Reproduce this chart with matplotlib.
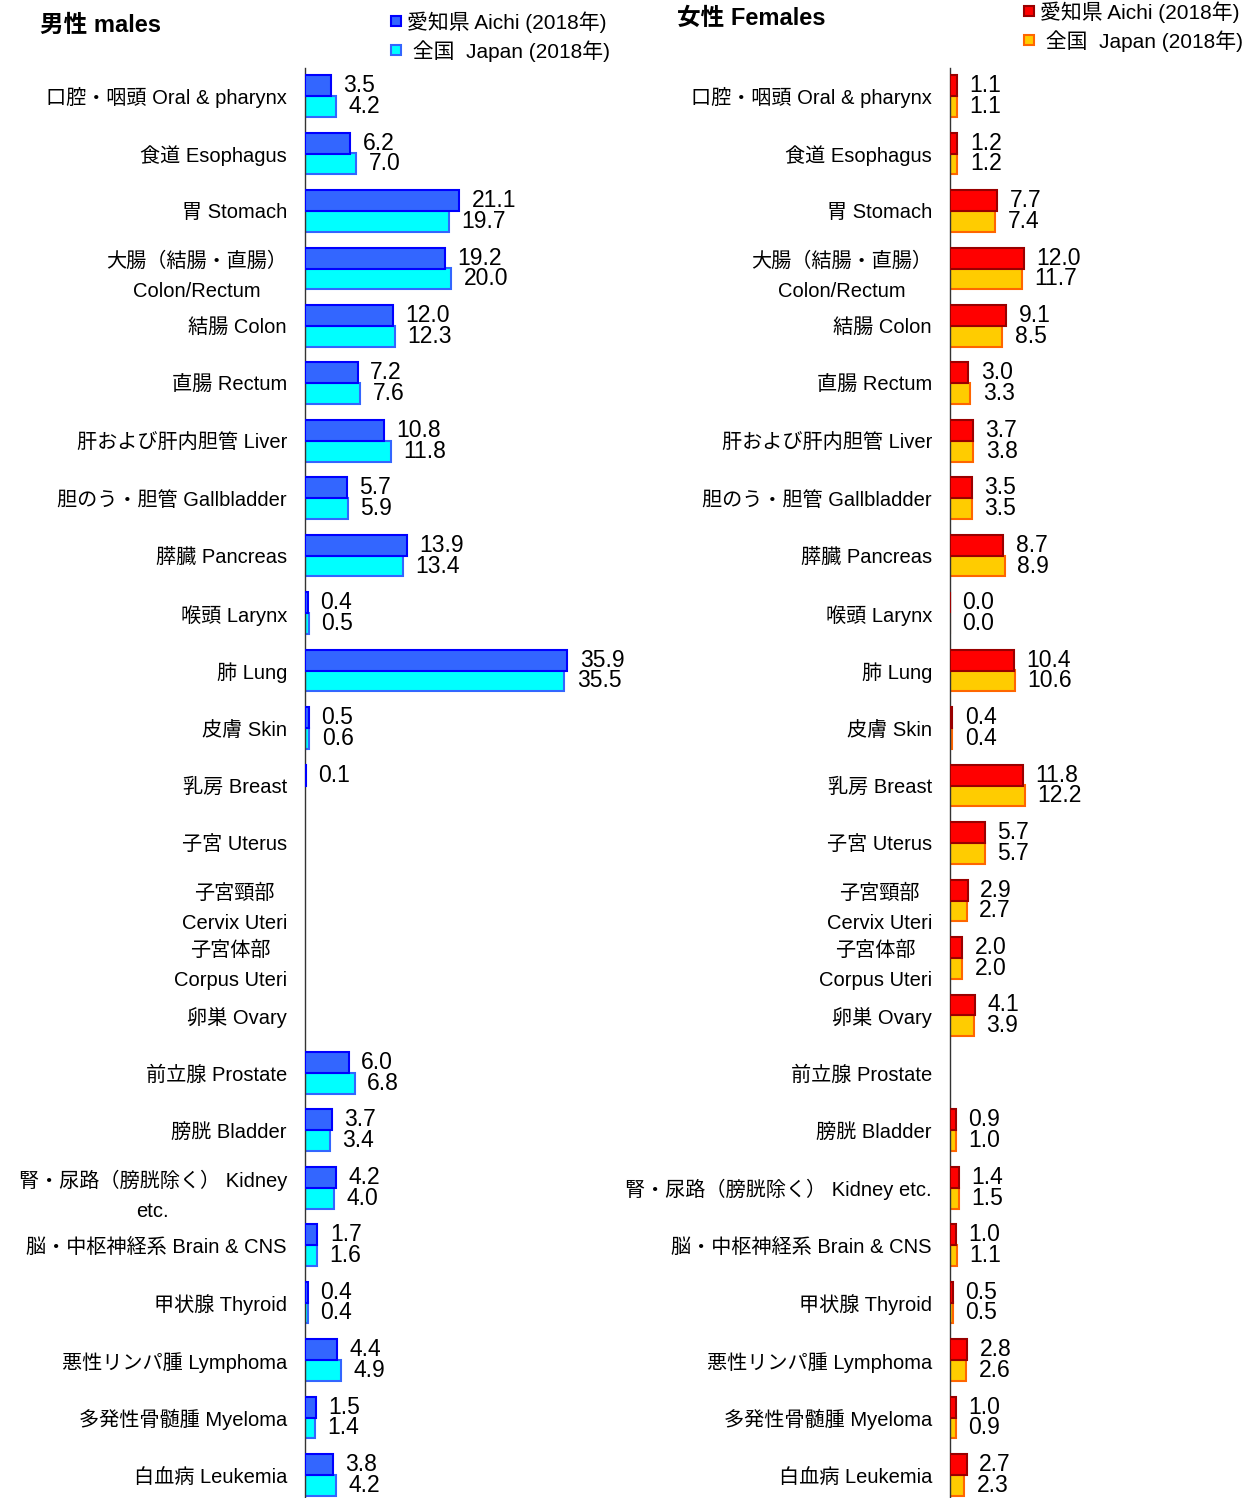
import matplotlib
matplotlib.use("Agg")
import matplotlib.pyplot as plt
from matplotlib.lines import Line2D
import numpy as np

plt.rcParams['font.family'] = ['Liberation Sans', 'Noto Sans CJK JP', 'DejaVu Sans']

male_labels = ["口腔・咽頭 Oral & pharynx", "食道 Esophagus", "胃 Stomach",
               "大腸（結腸・直腸）\nColon/Rectum", "結腸 Colon", "直腸 Rectum",
               "肝および肝内胆管 Liver", "胆のう・胆管 Gallbladder", "膵臓 Pancreas",
               "喉頭 Larynx", "肺 Lung", "皮膚 Skin", "乳房 Breast", "子宮 Uterus",
               "子宮頸部\nCervix Uteri", "子宮体部\nCorpus Uteri", "卵巣 Ovary",
               "前立腺 Prostate", "膀胱 Bladder", "腎・尿路（膀胱除く） Kidney\netc.",
               "脳・中枢神経系 Brain & CNS", "甲状腺 Thyroid", "悪性リンパ腫 Lymphoma",
               "多発性骨髄腫 Myeloma", "白血病 Leukemia"]
female_labels = male_labels[:19] + ["腎・尿路（膀胱除く） Kidney etc."] + male_labels[20:]

male_aichi = [3.5, 6.2, 21.1, 19.2, 12.0, 7.2, 10.8, 5.7, 13.9, 0.4, 35.9, 0.5, 0.1,
              None, None, None, None, 6.0, 3.7, 4.2, 1.7, 0.4, 4.4, 1.5, 3.8]
male_japan = [4.2, 7.0, 19.7, 20.0, 12.3, 7.6, 11.8, 5.9, 13.4, 0.5, 35.5, 0.6, None,
              None, None, None, None, 6.8, 3.4, 4.0, 1.6, 0.4, 4.9, 1.4, 4.2]
female_aichi = [1.1, 1.2, 7.7, 12.0, 9.1, 3.0, 3.7, 3.5, 8.7, 0.0, 10.4, 0.4, 11.8,
                5.7, 2.9, 2.0, 4.1, None, 0.9, 1.4, 1.0, 0.5, 2.8, 1.0, 2.7]
female_japan = [1.1, 1.2, 7.4, 11.7, 8.5, 3.3, 3.8, 3.5, 8.9, 0.0, 10.6, 0.4, 12.2,
                5.7, 2.7, 2.0, 3.9, None, 1.0, 1.5, 1.1, 0.5, 2.6, 0.9, 2.3]

legend_aichi = "愛知県 Aichi (2018年)"
legend_japan = " 全国  Japan (2018年)"

W, H = 1248, 1498
fig = plt.figure(figsize=(W / 100, H / 100), dpi=100)

num_font = ['Liberation Sans Narrow', 'Liberation Sans', 'DejaVu Sans']


def panel(ax, labels, aichi, japan, xmax, c_a, e_a, c_j, e_j):
    n = len(labels)
    y = np.arange(n)
    off = 0.18
    h = 0.365
    for i in range(n):
        if aichi[i] is not None:
            ax.barh(y[i] - off, aichi[i], height=h, color=c_a, edgecolor=e_a,
                    linewidth=1.5, align='center', zorder=3)
            ax.annotate(f"{aichi[i]:.1f}", xy=(aichi[i], y[i] - off), xytext=(9, 0),
                        textcoords='offset points', va='center', ha='left',
                        fontsize=16.5, family=num_font)
        if japan[i] is not None:
            ax.barh(y[i] + off, japan[i], height=h, color=c_j, edgecolor=e_j,
                    linewidth=1.5, align='center', zorder=2)
            ax.annotate(f"{japan[i]:.1f}", xy=(japan[i], y[i] + off), xytext=(9, 0),
                        textcoords='offset points', va='center', ha='left',
                        fontsize=16.5, family=num_font)
    ax.set_xlim(0, xmax)
    ax.set_ylim(24.40, -0.487)
    ax.set_yticks(y)
    ax.set_yticklabels(labels, fontsize=14.5, linespacing=1.75)
    for t in ax.get_yticklabels():
        t.set_multialignment('center')
    ax.tick_params(axis='y', length=0, pad=13)
    ax.set_xticks([])
    for s in ['top', 'right', 'bottom']:
        ax.spines[s].set_visible(False)
    ax.spines['left'].set_color('#333333')
    ax.spines['left'].set_linewidth(1.0)
    ax.patch.set_alpha(0)


axm = fig.add_axes([305 / W, 0, 314 / W, 1430 / H])
panel(axm, male_labels, male_aichi, male_japan, 43,
      '#3366FF', '#0000FF', '#00FFFF', '#3366FF')
axf = fig.add_axes([950 / W, 0, 295 / W, 1430 / H])
panel(axf, female_labels, female_aichi, female_japan, 48,
      '#FF0000', '#990000', '#FFCC00', '#FF6600')

fig.text(40 / W, 1 - 25 / H, "男性 males", fontsize=17, weight='bold', va='center', ha='left')
fig.text(677 / W, 1 - 18 / H, "女性 Females", fontsize=17, weight='bold', va='center', ha='left')


def legend(x, y, c_a, e_a, c_j, e_j):
    handles = [Line2D([], [], linestyle='none', marker='s', markersize=7,
                      markerfacecolor=c_a, markeredgecolor=e_a, markeredgewidth=1.5),
               Line2D([], [], linestyle='none', marker='s', markersize=7,
                      markerfacecolor=c_j, markeredgecolor=e_j, markeredgewidth=1.5)]
    fig.legend(handles, [legend_aichi, legend_japan], loc='upper left',
               bbox_to_anchor=(x / W, 1 - y / H), frameon=False, fontsize=15,
               handlelength=0.6, handletextpad=0.2, labelspacing=0.35,
               borderpad=0, borderaxespad=0)


legend(390, 11, '#3366FF', '#0000FF', '#00FFFF', '#3366FF')
legend(1023, 1, '#FF0000', '#990000', '#FFCC00', '#FF6600')

fig.savefig("out.png", dpi=100)
